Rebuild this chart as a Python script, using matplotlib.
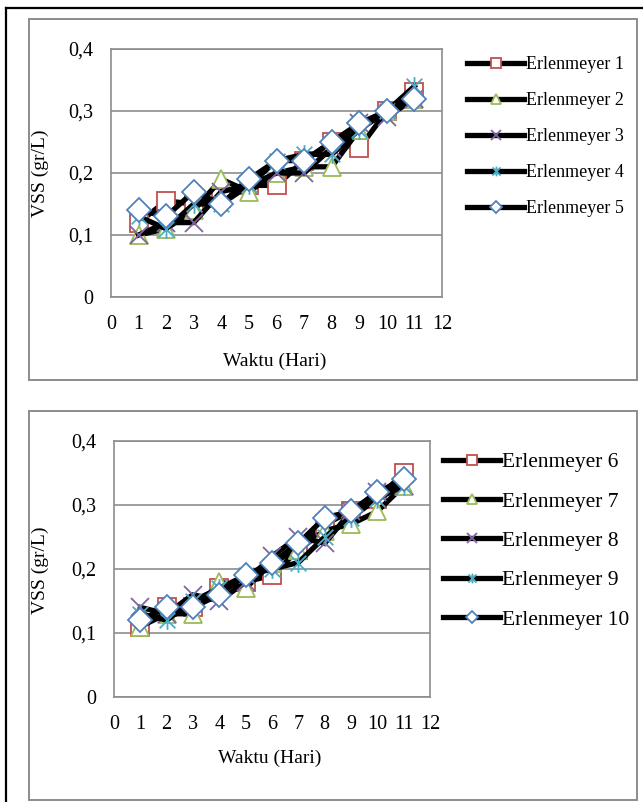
import matplotlib
matplotlib.use('Agg')
import matplotlib.pyplot as plt
from matplotlib.path import Path
from matplotlib.patches import Rectangle
from matplotlib.lines import Line2D
from matplotlib.ticker import FuncFormatter

plt.rcParams['font.family'] = ['Liberation Serif', 'DejaVu Serif']

hari = [1, 2, 3, 4, 5, 6, 7, 8, 9, 10, 11]

# panel atas
e1 = [0.12, 0.155, 0.15, 0.16, 0.18, 0.18, 0.22, 0.25, 0.24, 0.30, 0.33]
e2 = [0.10, 0.11, 0.14, 0.19, 0.17, 0.20, 0.21, 0.21, 0.27, 0.30, 0.32]
e3 = [0.10, 0.12, 0.12, 0.17, 0.18, 0.20, 0.20, 0.24, 0.28, 0.29, 0.32]
e4 = [0.13, 0.11, 0.15, 0.15, 0.18, 0.22, 0.23, 0.23, 0.27, 0.30, 0.34]
e5 = [0.14, 0.13, 0.17, 0.15, 0.19, 0.22, 0.22, 0.25, 0.28, 0.30, 0.32]

# panel bawah
e6 = [0.11, 0.14, 0.14, 0.17, 0.18, 0.19, 0.23, 0.27, 0.29, 0.31, 0.35]
e7 = [0.11, 0.13, 0.13, 0.18, 0.17, 0.21, 0.23, 0.26, 0.27, 0.29, 0.33]
e8 = [0.14, 0.13, 0.16, 0.15, 0.18, 0.22, 0.25, 0.24, 0.29, 0.32, 0.33]
e9 = [0.13, 0.12, 0.15, 0.17, 0.19, 0.20, 0.21, 0.25, 0.28, 0.31, 0.33]
e10 = [0.12, 0.14, 0.14, 0.16, 0.19, 0.21, 0.24, 0.28, 0.29, 0.32, 0.34]

top_labels = ['Erlenmeyer 1', 'Erlenmeyer 2', 'Erlenmeyer 3', 'Erlenmeyer 4', 'Erlenmeyer 5']
bot_labels = ['Erlenmeyer 6', 'Erlenmeyer 7', 'Erlenmeyer 8', 'Erlenmeyer 9', 'Erlenmeyer 10']

colors = ['#C0504D', '#9BBB59', '#8064A2', '#4BACC6', '#4F81BD']
star = Path([(-1, -1), (1, 1), (-1, 1), (1, -1), (0, -1.2), (0, 1.2)],
            [Path.MOVETO, Path.LINETO, Path.MOVETO, Path.LINETO, Path.MOVETO, Path.LINETO])
markers = ['s', '^', 'x', star, 'D']
msizes = [13, 13, 13.5, 13.5, 12]
fills = ['white', 'white', 'none', 'none', 'white']

W, H = 643, 802
fig = plt.figure(figsize=(W / 100, H / 100), dpi=100)

# bingkai
fig.add_artist(Line2D([6 / W, 6 / W], [0, 1 - 8 / H], color='black', lw=1.6))
fig.add_artist(Line2D([6 / W, 1], [1 - 8 / H, 1 - 8 / H], color='black', lw=1.6))
for y0, y1 in [(19, 380), (411, 800)]:
    fig.add_artist(Rectangle((29 / W, 1 - y1 / H), (637 - 29) / W, (y1 - y0) / H,
                             transform=fig.transFigure, fill=False, ec='#8c8c8c', lw=1.4))


def panel(rect, series, labels, leg_xy, leg_fs, leg_space, ylab_xy, xlab_xy):
    ax = fig.add_axes(rect)
    for i in range(len(series)):
        ax.plot(hari, series[i], color='black', lw=3.8, marker=markers[i], ms=msizes[i],
                mec=colors[i], mfc=fills[i], mew=1.3, label=labels[i])
    ax.set_xlim(0, 12)
    ax.set_ylim(0, 0.4)
    ax.set_xticks(range(13))
    ax.set_yticks([0, 0.1, 0.2, 0.3, 0.4])
    ax.yaxis.set_major_formatter(FuncFormatter(lambda v, p: '0' if v == 0 else ('%.1f' % v).replace('.', ',')))
    ax.grid(axis='y', color='#8c8c8c', lw=1.2)
    ax.set_axisbelow(True)
    for s in ax.spines.values():
        s.set_color('#8c8c8c')
        s.set_linewidth(1.2)
    ax.tick_params(length=0, labelsize=14.5)
    ax.tick_params(axis='y', pad=13)
    ax.tick_params(axis='x', pad=13)
    fig.text(ylab_xy[0] / W, 1 - ylab_xy[1] / H, 'VSS (gr/L)', rotation=90,
             ha='center', va='center', fontsize=14)
    fig.text(xlab_xy[0] / W, 1 - xlab_xy[1] / H, 'Waktu (Hari)',
             ha='center', va='center', fontsize=14)
    ax.legend(loc='upper left', bbox_to_anchor=(leg_xy[0] / W, 1 - leg_xy[1] / H),
              bbox_transform=fig.transFigure, frameon=False, fontsize=leg_fs,
              handlelength=3.3 * 12.5 / leg_fs, handletextpad=0.1, borderpad=0,
              borderaxespad=0, labelspacing=leg_space, markerscale=0.52)
    return ax


panel([111 / W, 1 - 297 / H, 331 / W, 248 / H], [e1, e2, e3, e4, e5], top_labels,
      (467, 56), 13, 1.05, (40, 173), (275, 361))
panel([114 / W, 1 - 697 / H, 316 / W, 256 / H], [e6, e7, e8, e9, e10], bot_labels,
      (443, 452), 15.5, 0.9, (40, 570), (270, 758))

fig.savefig('out.png', dpi=100)
